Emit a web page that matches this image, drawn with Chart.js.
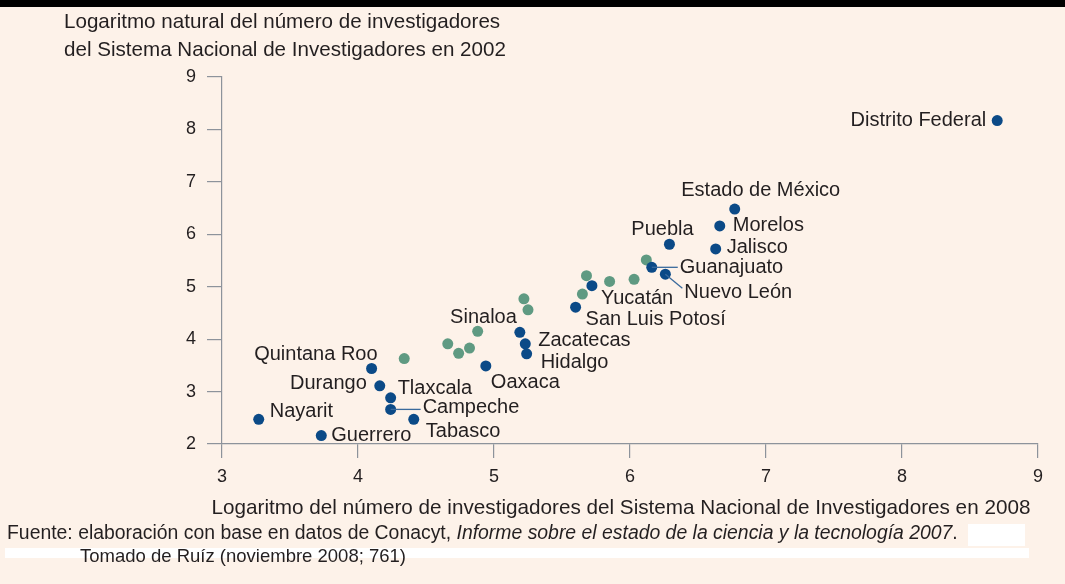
<!DOCTYPE html>
<html>
<head>
<meta charset="utf-8">
<script src="https://cdn.jsdelivr.net/npm/chart.js@4.4.1/dist/chart.umd.min.js"></script>
<style>
  html, body { margin: 0; padding: 0; background: #fdf2e9; }
  #wrap { width: 1065px; height: 584px; position: relative; }
</style>
</head>
<body>
<div id="wrap"><canvas id="chart" width="1065" height="584"></canvas></div>
<script>
// Labelled states (blue): ln SNI 2008 (x) vs ln SNI 2002 (y)
var states = ['Distrito Federal', 'Estado de México', 'Morelos', 'Jalisco', 'Puebla',
  'Guanajuato', 'Nuevo León', 'Yucatán', 'San Luis Potosí', 'Sinaloa', 'Zacatecas',
  'Hidalgo', 'Oaxaca', 'Quintana Roo', 'Durango', 'Tlaxcala', 'Campeche', 'Tabasco',
  'Nayarit', 'Guerrero'];
var states2008 = [8.70, 6.77, 6.66, 6.63, 6.29, 6.16, 6.26, 5.72, 5.60, 5.19, 5.23,
  5.24, 4.94, 4.10, 4.16, 4.24, 4.24, 4.41, 3.27, 3.73];
var states2002 = [8.17, 6.48, 6.16, 5.72, 5.81, 5.37, 5.24, 5.02, 4.61, 4.13, 3.91,
  3.72, 3.49, 3.44, 3.11, 2.88, 2.66, 2.47, 2.47, 2.16];

// Unlabelled states (green)
var other2008 = [4.34, 4.66, 4.74, 4.82, 4.88, 5.22, 5.25, 5.65, 5.68, 5.85, 6.03, 6.12];
var other2002 = [3.63, 3.91, 3.73, 3.83, 4.15, 4.77, 4.56, 4.86, 5.21, 5.10, 5.14, 5.51];

var xTicks = [3, 4, 5, 6, 7, 8, 9];
var yTicks = [2, 3, 4, 5, 6, 7, 8, 9];

var yTitle = ['Logaritmo natural del número de investigadores',
  'del Sistema Nacional de Investigadores en 2002'];
var xTitle = 'Logaritmo del número de investigadores del Sistema Nacional de Investigadores en 2008';
var sourcePlain = 'Fuente: elaboración con base en datos de Conacyt, ';
var sourceItalic = 'Informe sobre el estado de la ciencia y la tecnología 2007';
var sourceRef = 'Tomado de Ruíz (noviembre 2008; 761)';

var BG = '#fdf2e9';
var BLUE = '#0b4a87';
var GREEN = '#5f9a82';
var INK = '#231f20';
var AXIS = '#8d939b';
var FAM = '"Liberation Sans", Arial, sans-serif';

// label placement relative to each point: [dx, dy, align, leader]
var placement = {
  'Distrito Federal': [-11, 0, 'right'],
  'Estado de México': [26, -19, 'center'],
  'Morelos': [13, 0, 'left'],
  'Jalisco': [11, -1, 'left'],
  'Puebla': [-7, -15, 'center'],
  'Guanajuato': [28, 0, 'left', 'flat'],
  'Nuevo León': [19, 18, 'left', 'diag'],
  'Yucatán': [9, 13, 'left'],
  'San Luis Potosí': [10, 12, 'left'],
  'Sinaloa': [-3, -15, 'right'],
  'Zacatecas': [13, -3, 'left'],
  'Hidalgo': [14, 9, 'left'],
  'Oaxaca': [5, 17, 'left'],
  'Quintana Roo': [6, -14, 'right'],
  'Durango': [-13, -2, 'right'],
  'Tlaxcala': [7, -9, 'left'],
  'Campeche': [32, -2, 'left', 'flat'],
  'Tabasco': [12, 12, 'left'],
  'Nayarit': [11, -8, 'left'],
  'Guerrero': [10, 0, 'left']
};

function toPoints(xs, ys) {
  return xs.map(function(x, i) { return { x: x, y: ys[i] }; });
}

var decorations = {
  id: 'decorations',
  beforeDraw: function(chart) {
    var ctx = chart.ctx;
    ctx.save();
    ctx.fillStyle = BG;
    ctx.fillRect(0, 0, chart.width, chart.height);
    ctx.fillStyle = '#000';
    ctx.fillRect(0, 0, chart.width, 7);
    ctx.restore();
  },
  afterDatasetsDraw: function(chart) {
    var ctx = chart.ctx;
    var pts = chart.getDatasetMeta(0).data;
    ctx.save();
    ctx.font = '20px ' + FAM;
    ctx.fillStyle = INK;
    ctx.textBaseline = 'middle';
    states.forEach(function(name, i) {
      var p = pts[i];
      var pl = placement[name];
      var tx = p.x + pl[0], ty = p.y + pl[1];
      if (pl[3]) {
        ctx.strokeStyle = '#3a6a9c';
        ctx.lineWidth = 1.3;
        ctx.beginPath();
        ctx.moveTo(p.x, p.y);
        if (pl[3] === 'flat') ctx.lineTo(tx - 2, p.y);
        else ctx.lineTo(tx - 2, ty - 4);
        ctx.stroke();
      }
      ctx.textAlign = pl[2];
      ctx.fillText(name, tx, ty);
    });
    ctx.restore();
  },
  afterDraw: function(chart) {
    var ctx = chart.ctx;
    ctx.save();
    ctx.fillStyle = INK;
    ctx.textBaseline = 'middle';
    ctx.textAlign = 'left';
    ctx.font = '20.6px ' + FAM;
    ctx.fillText(yTitle[0], 64, 22);
    ctx.fillText(yTitle[1], 64, 50);

    ctx.font = '20.7px ' + FAM;
    ctx.textAlign = 'center';
    ctx.fillText(xTitle, 621, 508);

    // white patches of the scanned source
    ctx.fillStyle = '#ffffff';
    ctx.fillRect(968, 524, 57, 22);
    ctx.fillRect(5, 548, 1024, 10);

    ctx.fillStyle = INK;
    ctx.textAlign = 'left';
    ctx.font = '19.4px ' + FAM;
    var x0 = 7;
    ctx.fillText(sourcePlain, x0, 534);
    x0 += ctx.measureText(sourcePlain).width;
    ctx.font = 'italic 19.4px ' + FAM;
    ctx.fillText(sourceItalic, x0, 534);
    x0 += ctx.measureText(sourceItalic).width;
    ctx.font = '19.4px ' + FAM;
    ctx.fillText('.', x0, 534);
    ctx.font = '18.5px ' + FAM;
    ctx.fillText(sourceRef, 80, 557);
    ctx.restore();
  }
};

new Chart(document.getElementById('chart'), {
  type: 'scatter',
  data: {
    datasets: [{
      data: toPoints(states2008, states2002),
      backgroundColor: BLUE,
      borderWidth: 0,
      pointRadius: 5.5
    }, {
      data: toPoints(other2008, other2002),
      backgroundColor: GREEN,
      borderWidth: 0,
      pointRadius: 5.5
    }]
  },
  options: {
    responsive: false,
    animation: false,
    devicePixelRatio: 1,
    layout: { padding: { top: 77, right: 27, left: 0, bottom: 0 } },
    plugins: { legend: { display: false }, tooltip: { enabled: false } },
    scales: {
      x: {
        type: 'linear', min: 3, max: 9,
        afterFit: function(s) { s.height = 140; },
        afterBuildTicks: function(s) { s.ticks = xTicks.map(function(v) { return { value: v }; }); },
        ticks: { color: INK, font: { family: FAM, size: 18 }, padding: 8 },
        grid: { drawOnChartArea: false, tickLength: 14, color: AXIS, lineWidth: 1.2 },
        border: { display: true, color: AXIS, width: 1.2 }
      },
      y: {
        type: 'linear', min: 2, max: 9,
        afterFit: function(s) { s.width = 222; },
        afterBuildTicks: function(s) { s.ticks = yTicks.map(function(v) { return { value: v }; }); },
        ticks: { color: INK, font: { family: FAM, size: 18 }, padding: 11 },
        grid: { drawOnChartArea: false, tickLength: 15, color: AXIS, lineWidth: 1.2 },
        border: { display: true, color: AXIS, width: 1.2 }
      }
    }
  },
  plugins: [decorations]
});
</script>
</body>
</html>
